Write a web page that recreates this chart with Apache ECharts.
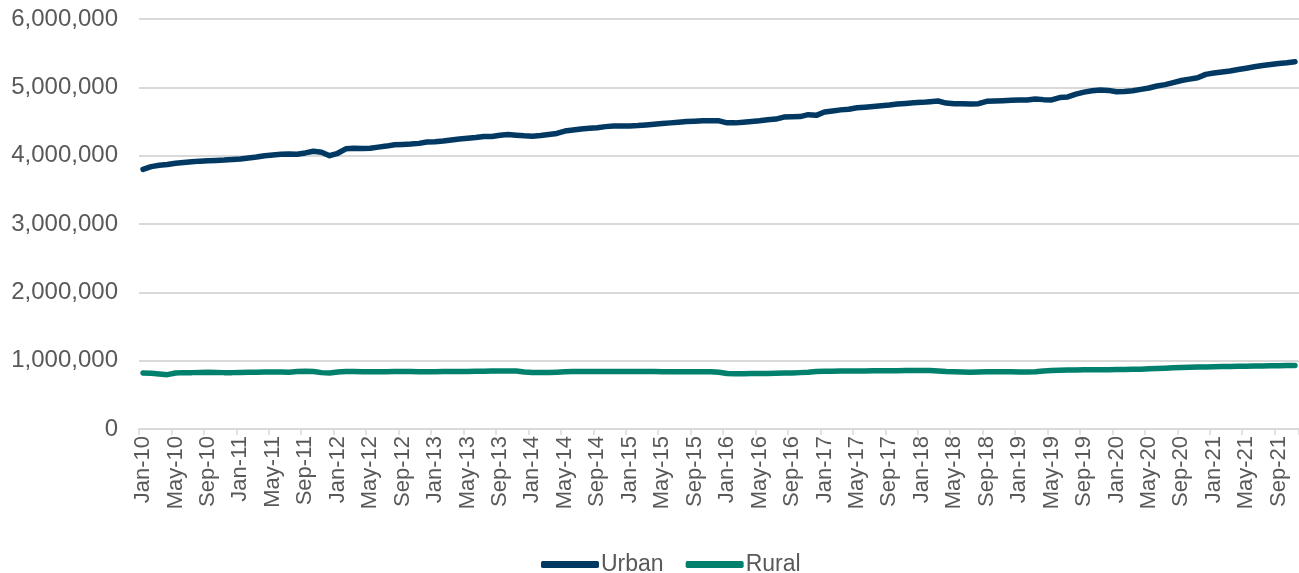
<!DOCTYPE html>
<html>
<head>
<meta charset="utf-8">
<script src="https://cdn.jsdelivr.net/npm/echarts@6/dist/echarts.min.js"></script>
<style>
html,body{margin:0;padding:0;background:#fff;}
#chart{width:1299px;height:573px;}
</style>
</head>
<body>
<div id="chart"></div>
<script>
// Categories: monthly, Jan-10 .. Nov-21
var monthNames = ['Jan','Feb','Mar','Apr','May','Jun','Jul','Aug','Sep','Oct','Nov','Dec'];
var categories = [];
for (var y = 10; y <= 21; y++) {
  for (var m = 0; m < 12; m++) {
    if (y === 21 && m > 10) break;
    categories.push(monthNames[m] + '-' + y);
  }
}

// Values in millions
var urbanM = [
3.80,3.84,3.86,3.87,3.89,3.90,3.91,3.92,3.925,3.93,3.935,3.945,
3.95,3.965,3.98,4.00,4.01,4.02,4.025,4.02,4.04,4.065,4.05,4.00,
4.035,4.10,4.11,4.105,4.11,4.125,4.14,4.16,4.165,4.17,4.18,4.20,
4.205,4.215,4.23,4.245,4.255,4.265,4.28,4.28,4.30,4.31,4.30,4.29,
4.285,4.295,4.31,4.325,4.36,4.375,4.39,4.40,4.41,4.425,4.433,4.435,
4.435,4.44,4.45,4.46,4.47,4.48,4.49,4.50,4.505,4.51,4.512,4.51,
4.48,4.48,4.49,4.50,4.51,4.525,4.535,4.565,4.57,4.572,4.60,4.59,
4.64,4.655,4.67,4.68,4.70,4.71,4.72,4.73,4.74,4.755,4.765,4.775,
4.78,4.79,4.80,4.77,4.76,4.76,4.755,4.76,4.795,4.80,4.805,4.81,
4.815,4.815,4.83,4.82,4.815,4.85,4.86,4.90,4.93,4.95,4.96,4.955,
4.935,4.94,4.95,4.97,4.99,5.02,5.04,5.07,5.10,5.12,5.14,5.19,
5.21,5.225,5.24,5.26,5.28,5.30,5.32,5.335,5.35,5.36,5.375
];
var ruralM = [
0.82,0.815,0.805,0.795,0.82,0.825,0.825,0.828,0.83,0.828,0.825,0.825,
0.828,0.83,0.832,0.833,0.833,0.835,0.832,0.84,0.845,0.84,0.825,0.82,
0.835,0.84,0.84,0.838,0.838,0.838,0.838,0.84,0.84,0.84,0.838,0.838,
0.838,0.84,0.84,0.842,0.843,0.845,0.846,0.847,0.848,0.85,0.848,0.835,
0.828,0.828,0.828,0.832,0.838,0.84,0.842,0.842,0.842,0.842,0.84,0.84,
0.84,0.84,0.84,0.84,0.838,0.838,0.838,0.838,0.836,0.836,0.838,0.83,
0.812,0.81,0.81,0.812,0.812,0.813,0.815,0.818,0.82,0.825,0.83,0.84,
0.845,0.846,0.847,0.848,0.849,0.85,0.851,0.852,0.853,0.854,0.855,0.856,
0.855,0.855,0.85,0.84,0.838,0.835,0.832,0.834,0.836,0.836,0.836,0.836,
0.835,0.835,0.838,0.85,0.855,0.86,0.862,0.864,0.866,0.867,0.868,0.868,
0.869,0.87,0.873,0.876,0.88,0.885,0.89,0.895,0.90,0.903,0.906,0.909,
0.911,0.913,0.915,0.917,0.919,0.921,0.923,0.925,0.927,0.929,0.93
];
var urban = urbanM.map(function(v){ return Math.round(v * 1e6); });
var rural = ruralM.map(function(v){ return Math.round(v * 1e6); });

var textColor = '#595959';
var font = 'Liberation Sans, Arial, sans-serif';

var chart = echarts.init(document.getElementById('chart'), null, {renderer: 'canvas'});
chart.setOption({
  animation: false,
  backgroundColor: '#ffffff',
  textStyle: {fontFamily: font},
  grid: {left: 139, right: 0, top: 19, bottom: 144, containLabel: false},
  legend: {
    left: 536, top: 548,
    itemWidth: 58, itemHeight: 7, itemGap: 22,
    icon: 'roundRect',
    textStyle: {color: textColor, fontSize: 23, fontFamily: font, padding: [0,0,0,-3]},
    data: ['Urban', 'Rural']
  },
  xAxis: {
    type: 'category',
    data: categories,
    boundaryGap: true,
    axisLine: {lineStyle: {color: '#d9d9d9', width: 2}},
    axisTick: {show: true, interval: 3, length: 6, lineStyle: {color: '#d9d9d9', width: 1.5}},
    axisLabel: {interval: 3, rotate: 90, color: textColor, fontSize: 22, fontFamily: font, margin: 7}
  },
  yAxis: {
    type: 'value',
    min: 0, max: 6000000, interval: 1000000,
    axisLine: {show: false},
    axisTick: {show: false},
    splitLine: {lineStyle: {color: '#d9d9d9', width: 2}},
    axisLabel: {
      color: textColor, fontSize: 24, fontFamily: font, margin: 21,
      formatter: function(v){ return v.toString().replace(/\B(?=(\d{3})+(?!\d))/g, ','); }
    }
  },
  series: [
    {name: 'Urban', type: 'line', data: urban, showSymbol: false, symbol: 'none',
     lineStyle: {color: '#023963', width: 5.5, cap: 'round', join: 'round'}, itemStyle: {color: '#023963'}},
    {name: 'Rural', type: 'line', data: rural, showSymbol: false, symbol: 'none',
     lineStyle: {color: '#00806d', width: 5.5, cap: 'round', join: 'round'}, itemStyle: {color: '#00806d'}}
  ]
});
</script>
</body>
</html>
